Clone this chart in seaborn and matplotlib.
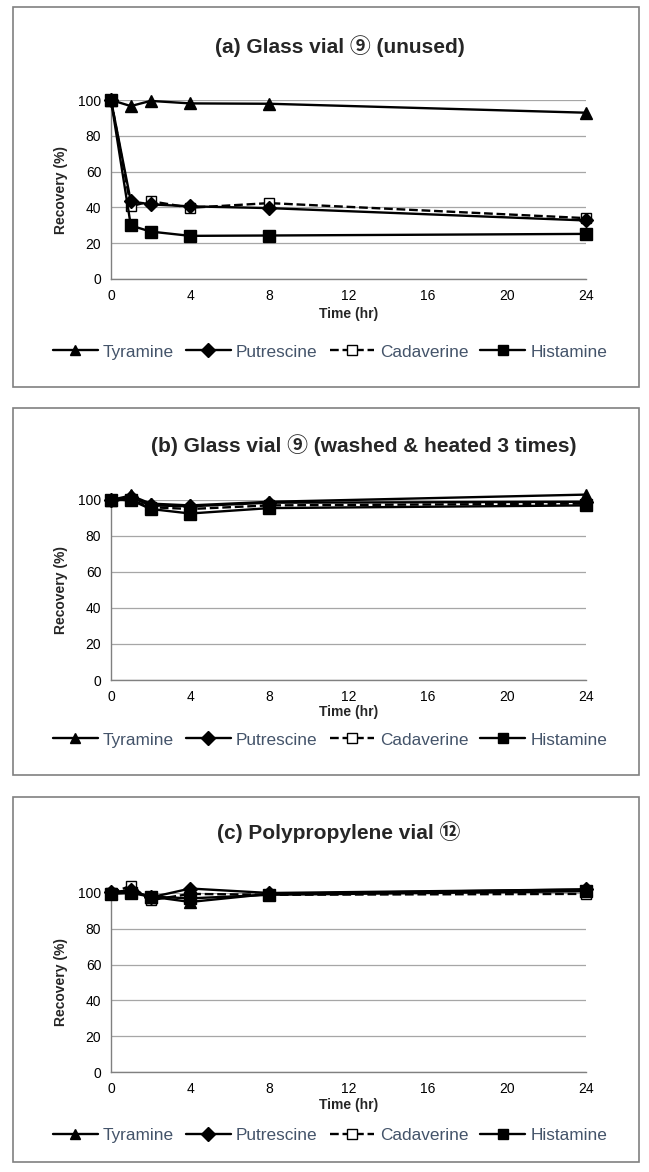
import matplotlib
matplotlib.use("Agg")
import matplotlib.pyplot as plt
from matplotlib.patches import Rectangle
from matplotlib.lines import Line2D
import seaborn as sns
import pandas as pd

sns.set_theme(style="white")
plt.rcParams['font.family'] = ['Liberation Sans', 'Noto Sans CJK JP', 'DejaVu Sans']

time_hr = [0, 1, 2, 4, 8, 24]
series_names = ["Tyramine", "Putrescine", "Cadaverine", "Histamine"]
panel_titles = ["(a) Glass vial \u2468 (unused)",
                "(b) Glass vial \u2468 (washed & heated 3 times)",
                "(c) Polypropylene vial \u246b"]

# panel (a)
a_tyramine   = [100, 96.6, 99.5, 98.1, 97.9, 92.9]
a_putrescine = [100, 43.4, 41.7, 40.6, 39.6, 32.7]
a_cadaverine = [100, 40.6, 43.5, 39.8, 42.4, 34.0]
a_histamine  = [100, 29.9, 26.5, 24.1, 24.3, 25.2]
# panel (b)
b_tyramine   = [100, 102.5, 98.0, 97.0, 99.0, 103.0]
b_putrescine = [100, 101.5, 97.0, 96.5, 98.5, 99.0]
b_cadaverine = [100, 100.0, 96.0, 95.0, 97.0, 98.0]
b_histamine  = [100, 100.0, 95.0, 92.5, 95.5, 97.0]
# panel (c)
c_tyramine   = [100, 101.0, 98.0, 95.0, 99.5, 102.0]
c_putrescine = [100.5, 101.5, 97.5, 102.5, 100.0, 102.0]
c_cadaverine = [100, 104.0, 96.0, 99.5, 99.0, 99.5]
c_histamine  = [99.5, 100.0, 98.0, 97.0, 99.0, 101.0]

panels = [
    [a_tyramine, a_putrescine, a_cadaverine, a_histamine],
    [b_tyramine, b_putrescine, b_cadaverine, b_histamine],
    [c_tyramine, c_putrescine, c_cadaverine, c_histamine],
]

y_ticks = [0, 20, 40, 60, 80, 100]
x_ticks = [0, 4, 8, 12, 16, 20, 24]

styles = {
    "Tyramine":   dict(marker="^", ls="-",  mfc="black"),
    "Putrescine": dict(marker="D", ls="-",  mfc="black"),
    "Cadaverine": dict(marker="s", ls="--", mfc="white"),
    "Histamine":  dict(marker="s", ls="-",  mfc="black"),
}
msizes = {"Tyramine": 9, "Putrescine": 7, "Cadaverine": 7.5, "Histamine": 8}

W, H = 649, 1172
fig = plt.figure(figsize=(W / 100, H / 100), dpi=100)

# pixel layout: (axes top y, axes bottom y, box top, box bottom, title y, title x, xlabel y, legend y)
layout = [
    (100, 279, 7, 387, 46, 340, 314, 352),
    (500, 680, 408, 775, 445, 364, 712, 740),
    (893, 1072, 797, 1162, 832, 339, 1105, 1135),
]
ax_left, ax_right = 111, 586

for (vals, title, lay) in zip(panels, panel_titles, layout):
    top, bot, btop, bbot, ty, tx, xly, ly = lay
    # border box
    fig.patches.append(Rectangle((13 / W, 1 - bbot / H), (639 - 13) / W, (bbot - btop) / H,
                                 transform=fig.transFigure, fill=False,
                                 edgecolor="#808080", linewidth=1.2))
    ax = fig.add_axes([ax_left / W, 1 - bot / H, (ax_right - ax_left) / W, (bot - top) / H])
    df = pd.DataFrame({"time": time_hr * 4,
                       "recovery": sum(vals, []),
                       "compound": sum([[n] * len(time_hr) for n in series_names], [])})
    order = ["Cadaverine", "Putrescine", "Histamine", "Tyramine"]
    for name in order:
        st = styles[name]
        sub = df[df["compound"] == name]
        sns.lineplot(data=sub, x="time", y="recovery", ax=ax, color="black",
                     linestyle=st["ls"], linewidth=1.7, marker=st["marker"],
                     markersize=msizes[name], markerfacecolor=st["mfc"],
                     markeredgecolor="black", markeredgewidth=1.0,
                     clip_on=False, zorder=3, legend=False)
    ax.set_xlim(0, 24)
    ax.set_ylim(0, 100)
    ax.set_xticks(x_ticks)
    ax.set_yticks(y_ticks)
    ax.yaxis.grid(True, color="#A6A6A6", linewidth=0.9)
    ax.set_axisbelow(True)
    for s in ["top", "right"]:
        ax.spines[s].set_visible(False)
    for s in ["left", "bottom"]:
        ax.spines[s].set_color("#808080")
        ax.spines[s].set_linewidth(1.0)
    ax.tick_params(axis="both", labelsize=10, colors="black", length=4,
                   width=1.0, direction="out", color="#808080", pad=3)
    ax.set_xlabel("")
    ax.set_ylabel("Recovery (%)", fontsize=10, fontweight="bold", labelpad=7)
    fig.text(tx / W, 1 - ty / H, title,
             ha="center", va="center", fontsize=15, fontweight="bold")
    fig.text((ax_left + ax_right) / 2 / W, 1 - xly / H, "Time (hr)",
             ha="center", va="center", fontsize=10, fontweight="bold")
    handles = []
    for name in series_names:
        st = styles[name]
        handles.append(Line2D([], [], color="black", linestyle=st["ls"], linewidth=1.7,
                              marker=st["marker"], markersize=7,
                              markerfacecolor=st["mfc"], markeredgecolor="black"))
    leg = fig.legend(handles, series_names, loc="center", ncol=4,
                     bbox_to_anchor=(330 / W, 1 - ly / H), frameon=False,
                     fontsize=12.4, handlelength=2.6, columnspacing=0.7,
                     handletextpad=0.3)
    for t in leg.get_texts():
        t.set_color("#44546A")

fig.savefig("out.png", dpi=100, facecolor="white")
